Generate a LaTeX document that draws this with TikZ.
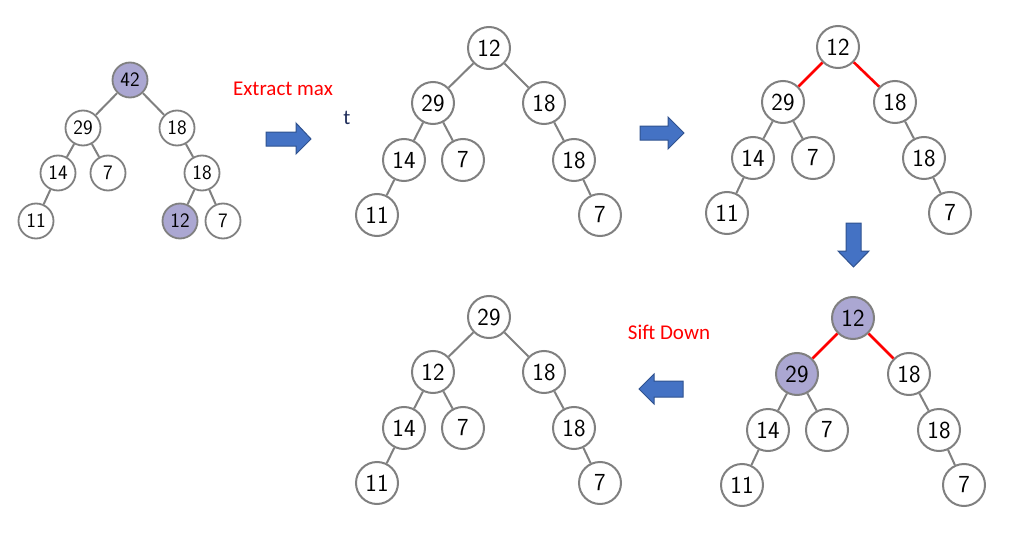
\documentclass[tikz,border=0pt]{standalone}
\usepackage{fontspec}
\newfontfamily\calfont{Carlito}
\definecolor{nodegray}{RGB}{128,128,128}
\definecolor{hlpurple}{RGB}{171,167,210}
\definecolor{arrowblue}{RGB}{68,114,196}
\definecolor{arrowedge}{RGB}{47,82,143}
\definecolor{navy}{RGB}{31,45,90}
\definecolor{lblred}{RGB}{255,0,0}
\begin{document}
\begin{tikzpicture}[x=1pt,y=-1pt,
  hn/.style={circle,draw=nodegray,line width=2pt,fill=white,minimum size=42pt,inner sep=0pt,font=\sffamily\fontsize{24.5}{24.5}\selectfont},
  sn/.style={circle,draw=nodegray,line width=1.8pt,fill=white,minimum size=35pt,inner sep=0pt,font=\sffamily\fontsize{20.5}{20.5}\selectfont},
  hl/.style={fill=hlpurple},
  edg/.style={draw=nodegray,line width=2pt},
  redg/.style={draw=lblred,line width=2.6pt},
  blk/.style={fill=arrowblue,draw=arrowedge,line width=1pt},
  lbl/.style={text=lblred,font=\calfont\fontsize{21}{21}\selectfont,inner sep=0pt}
]
\useasboundingbox (0,0) rectangle (1021,535);
% Tree 1
\node[sn,hl] (a1) at (130,80) {42};
\node[sn] (a2) at (83,128) {29};
\node[sn] (a3) at (177,128) {18};
\node[sn] (a4) at (58,173) {14};
\node[sn] (a5) at (108,173) {7};
\node[sn] (a6) at (202,173) {18};
\node[sn] (a7) at (36,221) {11};
\node[sn,hl] (a8) at (180,221) {12};
\node[sn] (a9) at (223,221) {7};
\draw[edg] (a1)--(a2) (a1)--(a3) (a2)--(a4) (a2)--(a5) (a3)--(a6) (a4)--(a7) (a6)--(a8) (a6)--(a9);
% Tree 2
\node[hn] (b1) at (489,48) {12};
\node[hn] (b2) at (433,103) {29};
\node[hn] (b3) at (544,103) {18};
\node[hn] (b4) at (404,160) {14};
\node[hn] (b5) at (463,160) {7};
\node[hn] (b6) at (574,160) {18};
\node[hn] (b7) at (377,215) {11};
\node[hn] (b8) at (600,215) {7};
\draw[edg] (b1)--(b2) (b1)--(b3) (b2)--(b4) (b2)--(b5) (b3)--(b6) (b4)--(b7) (b6)--(b8);
% Tree 3
\node[hn] (c1) at (838,47) {12};
\node[hn] (c2) at (783,102) {29};
\node[hn] (c3) at (895,102) {18};
\node[hn] (c4) at (753,158) {14};
\node[hn] (c5) at (813,158) {7};
\node[hn] (c6) at (924,158) {18};
\node[hn] (c7) at (727,213) {11};
\node[hn] (c8) at (950,213) {7};
\draw[redg] (c1)--(c2) (c1)--(c3);
\draw[edg] (c2)--(c4) (c2)--(c5) (c3)--(c6) (c4)--(c7) (c6)--(c8);
% Tree 4
\node[hn,hl] (d1) at (853,318) {12};
\node[hn,hl] (d2) at (797,374) {29};
\node[hn] (d3) at (909,374) {18};
\node[hn] (d4) at (768,430) {14};
\node[hn] (d5) at (827,430) {7};
\node[hn] (d6) at (939,430) {18};
\node[hn] (d7) at (742,485) {11};
\node[hn] (d8) at (964,485) {7};
\draw[redg] (d1)--(d2) (d1)--(d3);
\draw[edg] (d2)--(d4) (d2)--(d5) (d3)--(d6) (d4)--(d7) (d6)--(d8);
% Tree 5
\node[hn] (e1) at (489,317) {29};
\node[hn] (e2) at (433,372) {12};
\node[hn] (e3) at (544,372) {18};
\node[hn] (e4) at (404,428) {14};
\node[hn] (e5) at (463,428) {7};
\node[hn] (e6) at (574,428) {18};
\node[hn] (e7) at (377,483) {11};
\node[hn] (e8) at (600,483) {7};
\draw[edg] (e1)--(e2) (e1)--(e3) (e2)--(e4) (e2)--(e5) (e3)--(e6) (e4)--(e7) (e6)--(e8);
% block arrows
\draw[blk] (266,132)--(296,132)--(296,123)--(311,139)--(296,154)--(296,146)--(266,146)--cycle;
\draw[blk] (640,126)--(668,126)--(668,117)--(684,133)--(668,149)--(668,140)--(640,140)--cycle;
\draw[blk] (846,223)--(861,223)--(861,251)--(869,251)--(853.5,267)--(838,251)--(846,251)--cycle;
\draw[blk] (683,381)--(654,381)--(654,374)--(639,389)--(654,404)--(654,397)--(683,397)--cycle;
% labels
\node[lbl] (t1) at (283,89) {Extract max};
\node[lbl] (t2) at (669,332) {Sift Down};
\node[inner sep=0pt,text=navy,font=\calfont\fontsize{21}{21}\selectfont] (t3) at (347,118) {t};
\end{tikzpicture}
\end{document}
